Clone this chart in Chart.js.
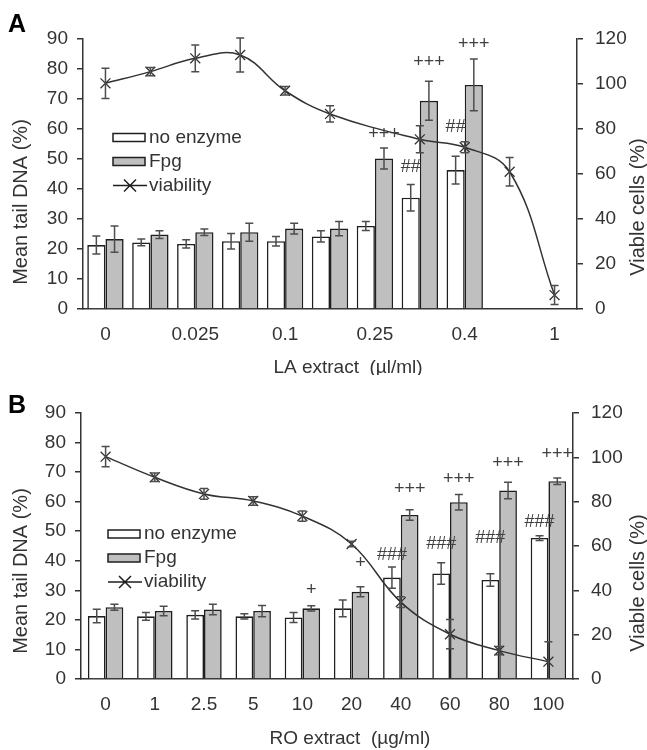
<!DOCTYPE html>
<html>
<head>
<meta charset="utf-8">
<script src="https://cdn.jsdelivr.net/npm/chart.js@4.4.0/dist/chart.umd.min.js"></script>
<style>
  body { margin: 0; background: #fff; }
  .panel { width: 647px; height: 375px; }
</style>
</head>
<body>
<div class="panel"><canvas id="chartA" width="647" height="375"></canvas></div>
<div class="panel"><canvas id="chartB" width="647" height="375"></canvas></div>
<script>
// Panel A - LA extract (labels only every second category, like the original)
const labelsA = ['0', '', '0.025', '', '0.1', '', '0.25', '', '0.4', '', '1'];
const noEnzymeA = [21.3, 22.2, 21.7, 22.6, 22.6, 24.2, 27.7, 37.1, 46.3, null, null];
const noEnzymeErrA = [3.0, 1.1, 1.4, 2.6, 1.6, 1.9, 1.5, 4.4, 4.6, null, null];
const fpgA = [23.3, 24.8, 25.6, 25.6, 26.8, 26.8, 50.2, 69.4, 74.7, null, null];
const fpgErrA = [4.4, 1.3, 1.1, 3.0, 1.8, 2.4, 3.5, 6.5, 8.6, null, null];
const viabilityA = [100.3, 105.5, 111.4, 112.9, 97.0, 86.7, null, 75.4, 71.9, 61.0, 6.2];
const viabilityErrA = [6.7, 1.8, 5.9, 7.6, 1.9, 3.6, null, 6.0, 2.4, 6.3, 4.2];
// [text, dataset index (0 = no enzyme, 1 = Fpg), category index, height on left axis]
const flagsA = [['+++', 1, 6, 58.3], ['+++', 1, 7, 82.3], ['+++', 1, 8, 88.3], ['##', 0, 7, 47.3], ['##', 0, 8, 60.6]];

// Panel B - RO extract
const labelsB = ['0', '1', '2.5', '5', '10', '20', '40', '60', '80', '100'];
const noEnzymeB = [21.3, 21.2, 21.7, 21.2, 20.8, 23.9, 34.3, 35.7, 33.5, 47.7];
const noEnzymeErrB = [2.3, 1.3, 1.4, 0.9, 1.7, 2.8, 3.6, 3.6, 2.1, 0.8];
const fpgB = [24.3, 23.0, 23.5, 23.0, 23.9, 29.5, 55.5, 59.8, 63.8, 66.9];
const fpgErrB = [1.0, 1.6, 1.8, 1.9, 0.9, 1.7, 1.8, 2.6, 2.8, 1.1];
const viabilityB = [100.3, 91.0, 83.5, 80.3, 73.5, 60.9, 34.7, 20.2, 12.8, 7.8];
const viabilityErrB = [4.6, 1.9, 2.4, 1.9, 2.3, 1.2, 2.4, 6.6, 1.9, 9.0];
const flagsB = [['+', 1, 4, 30.1], ['+', 1, 5, 39.3], ['###', 0, 6, 42.0], ['+++', 1, 6, 64.4],
  ['###', 0, 7, 45.7], ['+++', 1, 7, 67.7], ['###', 0, 8, 47.8], ['+++', 1, 8, 73.2],
  ['###', 0, 9, 53.2], ['+++', 1, 9, 76.2]];

const leftTicks = { min: 0, max: 90, step: 10 };
const rightTicks = { min: 0, max: 120, step: 20 };

const FONT = '"Liberation Sans", Arial, sans-serif';
Chart.defaults.font.family = FONT;
Chart.defaults.font.size = 19;
Chart.defaults.color = '#333';

// error bars, significance marks, legend and axis titles
const extrasPlugin = {
    id: 'extras',
    afterDatasetsDraw(chart, args, opts) {
        const ctx = chart.ctx;
        const area = chart.chartArea;
        ctx.save();
        ctx.beginPath();
        ctx.rect(area.left, 0, area.right - area.left, area.bottom);
        ctx.clip();
        ctx.strokeStyle = '#4d4d4d';
        ctx.lineWidth = 1.5;
        chart.data.datasets.forEach((ds, di) => {
            if (!ds.errors) return;
            const meta = chart.getDatasetMeta(di);
            const scale = chart.scales[meta.yAxisID];
            meta.data.forEach((el, i) => {
                const v = ds.data[i], e = ds.errors[i];
                if (v == null || e == null) return;
                const yTop = scale.getPixelForValue(v + e);
                const yBot = scale.getPixelForValue(v - e);
                ctx.beginPath();
                ctx.moveTo(el.x, yTop); ctx.lineTo(el.x, yBot);
                ctx.moveTo(el.x - 4, yTop); ctx.lineTo(el.x + 4, yTop);
                ctx.moveTo(el.x - 4, yBot); ctx.lineTo(el.x + 4, yBot);
                ctx.stroke();
            });
        });
        ctx.restore();

        ctx.save();
        ctx.font = '18px ' + FONT;
        ctx.fillStyle = '#404040';
        ctx.textAlign = 'center';
        ctx.textBaseline = 'middle';
        (opts.flags || []).forEach(([text, di, i, v]) => {
            const el = chart.getDatasetMeta(di).data[i];
            ctx.fillText(text, el.x, chart.scales.y.getPixelForValue(v));
        });
        ctx.restore();
    },
    afterDraw(chart, args, opts) {
        const ctx = chart.ctx;
        ctx.save();
        ctx.fillStyle = '#000';
        ctx.font = 'bold 25px ' + FONT;
        ctx.fillText(opts.letter, 8, opts.letterY);

        ctx.fillStyle = '#333';
        ctx.font = '20px ' + FONT;
        ctx.textAlign = 'center';
        ctx.textBaseline = 'middle';
        [[opts.yTitle, 'Mean tail DNA (%)'], [opts.y2Title, 'Viable cells (%)']].forEach(([p, text]) => {
            ctx.save();
            ctx.translate(p[0], p[1]);
            ctx.rotate(-Math.PI / 2);
            ctx.fillText(text, 0, 0);
            ctx.restore();
        });
        ctx.font = '19px ' + FONT;
        ctx.textBaseline = 'alphabetic';
        ctx.fillText(opts.xText, opts.xTitle[0], opts.xTitle[1]);

        // legend
        const lx = opts.legend[0];
        let ly = opts.legend[1];
        ctx.textAlign = 'left';
        ctx.font = '19px ' + FONT;
        chart.data.datasets.forEach(ds => {
            ctx.lineWidth = 1.5;
            ctx.strokeStyle = '#1f1f1f';
            if (ds.type === 'line') {
                ctx.beginPath();
                ctx.moveTo(lx, ly); ctx.lineTo(lx + 34, ly);
                ctx.moveTo(lx + 11, ly - 6); ctx.lineTo(lx + 23, ly + 6);
                ctx.moveTo(lx + 11, ly + 6); ctx.lineTo(lx + 23, ly - 6);
                ctx.stroke();
            } else {
                ctx.fillStyle = ds.backgroundColor;
                ctx.fillRect(lx, ly - 4, 32, 8);
                ctx.strokeRect(lx, ly - 4, 32, 8);
            }
            ctx.fillStyle = '#333';
            ctx.fillText(ds.label, lx + 36, ly + 5);
            ly += 24;
        });
        ctx.restore();
    }
};

function buildChart(id, cfg) {
    return new Chart(document.getElementById(id), {
        type: 'bar',
        data: {
            labels: cfg.labels,
            datasets: [
                {
                    label: 'no enzyme', data: cfg.noEnzyme, errors: cfg.noEnzymeErr,
                    backgroundColor: '#ffffff', borderColor: '#1f1f1f', borderWidth: 1.6,
                    categoryPercentage: cfg.catPct, barPercentage: 1.0, yAxisID: 'y', order: 1
                },
                {
                    label: 'Fpg', data: cfg.fpg, errors: cfg.fpgErr,
                    backgroundColor: '#bfbfbf', borderColor: '#1f1f1f', borderWidth: 1.6,
                    categoryPercentage: cfg.catPct, barPercentage: 1.0, yAxisID: 'y', order: 1
                },
                {
                    type: 'line', label: 'viability', data: cfg.viability, errors: cfg.viabilityErr,
                    borderColor: '#333', borderWidth: 1.5, tension: 0.4, spanGaps: true, fill: false,
                    pointStyle: 'crossRot', pointRadius: 7, pointBorderWidth: 1.3,
                    pointBorderColor: '#333', yAxisID: 'y2', order: 0
                }
            ]
        },
        options: {
            responsive: false,
            animation: false,
            events: [],
            layout: { padding: { top: cfg.top, left: 0, right: 0, bottom: 0 } },
            plugins: {
                legend: { display: false },
                tooltip: { enabled: false },
                extras: cfg.extras
            },
            scales: {
                x: {
                    grid: { display: false, drawTicks: false },
                    border: { display: true, color: '#333', width: 1.5 },
                    ticks: { autoSkip: false, maxRotation: 0, padding: 14, color: '#333' },
                    afterFit: s => { s.height = cfg.xHeight; }
                },
                y: {
                    position: 'left',
                    min: leftTicks.min, max: leftTicks.max,
                    grid: { drawOnChartArea: false, tickLength: 6, color: '#333', lineWidth: 1.5 },
                    border: { color: '#333', width: 1.5 },
                    ticks: { stepSize: leftTicks.step, padding: 9, color: '#333' },
                    afterFit: s => { s.width = cfg.leftWidth; }
                },
                y2: {
                    position: 'right',
                    min: rightTicks.min, max: rightTicks.max,
                    grid: { drawOnChartArea: false, tickLength: 6, color: '#333', lineWidth: 1.5 },
                    border: { color: '#333', width: 1.5 },
                    ticks: { stepSize: rightTicks.step, padding: 12, color: '#333' },
                    afterFit: s => { s.width = cfg.rightWidth; }
                }
            }
        },
        plugins: [extrasPlugin]
    });
}

buildChart('chartA', {
    labels: labelsA, noEnzyme: noEnzymeA, noEnzymeErr: noEnzymeErrA,
    fpg: fpgA, fpgErr: fpgErrA, viability: viabilityA, viabilityErr: viabilityErrA,
    catPct: 0.81, top: 39, xHeight: 66, leftWidth: 83, rightWidth: 70,
    extras: {
        flags: flagsA, letter: 'A', letterY: 32,
        yTitle: [21, 202], y2Title: [638, 207],
        xTitle: [348, 373], xText: 'LA extract  (µl/ml)',
        legend: [113, 137.5]
    }
});

buildChart('chartB', {
    labels: labelsB, noEnzyme: noEnzymeB, noEnzymeErr: noEnzymeErrB,
    fpg: fpgB, fpgErr: fpgErrB, viability: viabilityB, viabilityErr: viabilityErrB,
    catPct: 0.72, top: 38, xHeight: 71, leftWidth: 81, rightWidth: 74,
    extras: {
        flags: flagsB, letter: 'B', letterY: 38,
        yTitle: [21, 196], y2Title: [638, 208],
        xTitle: [350, 369], xText: 'RO extract  (µg/ml)',
        legend: [108, 159]
    }
});
</script>
</body>
</html>
